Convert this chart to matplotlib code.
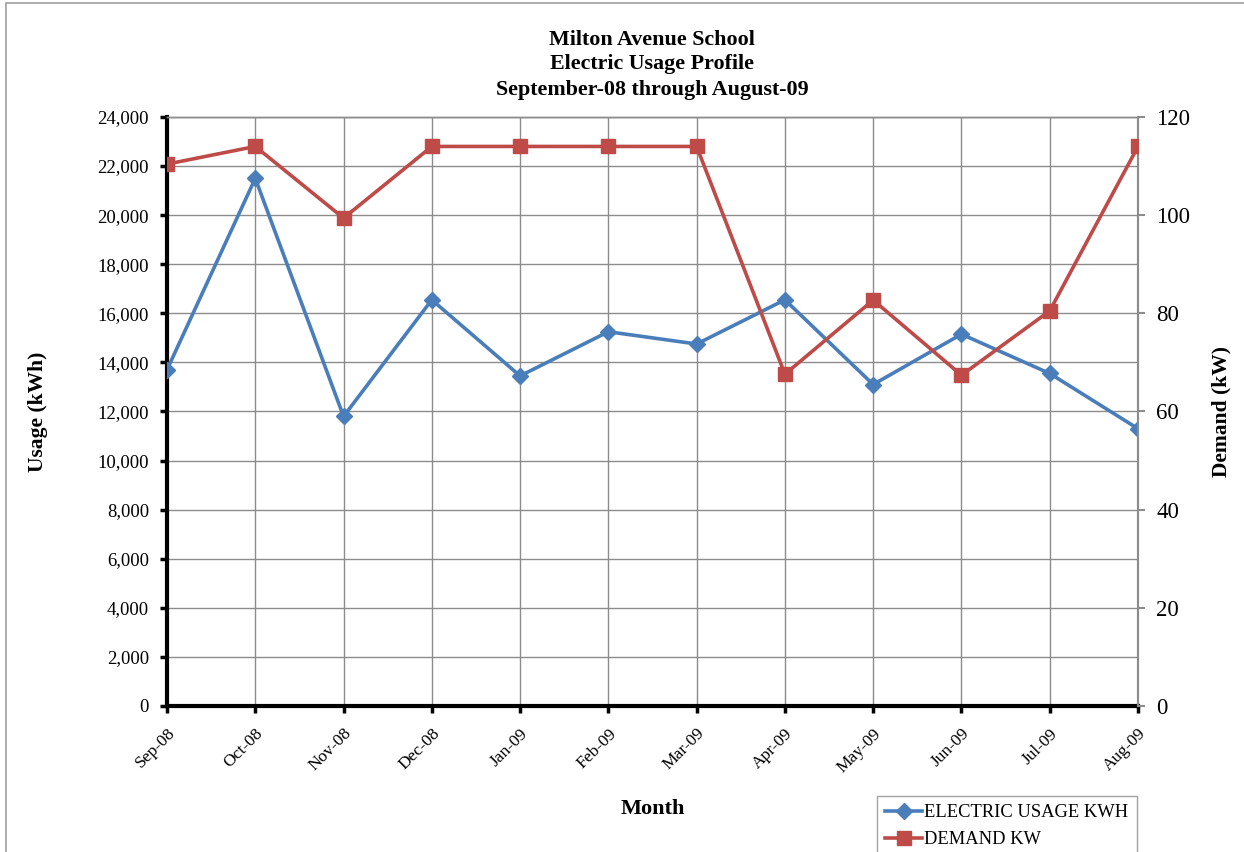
import matplotlib
matplotlib.use("Agg")
import matplotlib.pyplot as plt
from matplotlib.patches import Rectangle
from matplotlib.ticker import FuncFormatter, MultipleLocator

months = ["Sep-08", "Oct-08", "Nov-08", "Dec-08", "Jan-09", "Feb-09",
          "Mar-09", "Apr-09", "May-09", "Jun-09", "Jul-09", "Aug-09"]
usage_kwh = [13700, 21500, 11800, 16550, 13450, 15250,
             14750, 16550, 13100, 15150, 13550, 11300]
demand_kw = [110.4, 114.0, 99.4, 114.0, 114.0, 114.0,
             114.0, 67.6, 82.7, 67.4, 80.5, 114.0]

BLUE = "#4A7EBB"
RED = "#BE4B48"
GRID = "#8c8c8c"

plt.rcParams["font.family"] = ["Liberation Serif", "DejaVu Serif"]

fig = plt.figure(figsize=(12.44, 8.52), dpi=100)
ax = fig.add_axes([167 / 1244, 1 - 706 / 852, (1138 - 167) / 1244, (706 - 117) / 852])
ax2 = ax.twinx()

x = list(range(len(months)))
l1, = ax.plot(x, usage_kwh, color=BLUE, lw=2.6, marker="D", ms=8,
              label="ELECTRIC USAGE KWH", zorder=3)
l2, = ax2.plot(x, demand_kw, color=RED, lw=2.6, marker="s", ms=9.5,
               label="DEMAND KW", zorder=3)

ax.set_xlim(0, len(months) - 1)
ax.set_ylim(0, 24000)
ax2.set_ylim(0, 120)
ax.yaxis.set_major_locator(MultipleLocator(2000))
ax2.yaxis.set_major_locator(MultipleLocator(20))
ax.yaxis.set_major_formatter(FuncFormatter(lambda v, p: f"{int(v):,}"))

ax.set_xticks(x)
ax.set_xticklabels(months, rotation=45, ha="right", rotation_mode="anchor", fontsize=12.5)
ax.grid(True, color=GRID, lw=1.0)
ax.set_axisbelow(True)

for s in ["left", "bottom"]:
    ax.spines[s].set_linewidth(3)
    ax.spines[s].set_color("black")
for a in (ax, ax2):
    a.spines["top"].set_color(GRID)
    a.spines["top"].set_linewidth(1.0)
    a.spines["right"].set_color(GRID)
    a.spines["right"].set_linewidth(1.5)
ax2.spines["left"].set_visible(False)
ax2.spines["bottom"].set_visible(False)

ax.tick_params(axis="y", labelsize=13.5, length=5, width=2.5, color="black", pad=8)
ax.tick_params(axis="x", length=5, width=2.5, color="black", pad=9)
ax2.tick_params(axis="y", labelsize=16.5, length=5, width=1.5, color=GRID, pad=8)

ax.set_ylabel("Usage (kWh)", fontsize=15.5, fontweight="bold", labelpad=0)
ax.yaxis.set_label_coords(-119 / 971, 0.5)
ax2.set_ylabel("Demand (kW)", fontsize=15.5, fontweight="bold")
ax2.yaxis.set_label_coords(1 + 73 / 971, 0.5)
ax.set_xlabel("Month", fontsize=16, fontweight="bold")
ax.xaxis.set_label_coords(0.5, -93 / 589)

for yy, txt in [(40, "Milton Avenue School"), (64, "Electric Usage Profile"),
                (90, "September-08 through August-09")]:
    fig.text(652 / 1244, 1 - yy / 852, txt, ha="center", va="center",
             fontsize=15.8, fontweight="bold")

leg = fig.legend(handles=[l1, l2], loc="upper left",
                 bbox_to_anchor=(877 / 1244, 1 - 796 / 852),
                 fontsize=13.3, frameon=True, fancybox=False, handlelength=2.0,
                 handletextpad=0.1, borderpad=0.45, labelspacing=0.55,
                 borderaxespad=0)
leg.get_frame().set_edgecolor(GRID)
leg.get_frame().set_linewidth(1.0)

fig.patches.append(Rectangle((6 / 1244, -0.01), 1.2, 1 - 3 / 852 + 0.01,
                             transform=fig.transFigure, fill=False,
                             edgecolor="#a0a0a0", lw=1.2, zorder=0))

fig.savefig("out.png", dpi=100)
